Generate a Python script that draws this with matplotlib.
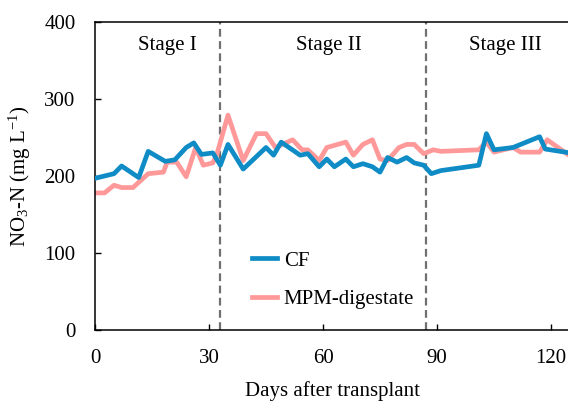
import matplotlib
matplotlib.use("Agg")
import matplotlib.pyplot as plt

days_cf = [0, 5, 7, 11.5, 14, 18.5, 21, 24, 26, 28, 31, 33, 35, 39, 45, 47, 49, 54, 56, 59,
           61, 63, 66, 68, 70.5, 73, 75, 77, 79.5, 82, 84, 86.5, 88.5, 91, 101, 103, 105,
           110, 117, 118.5, 125]
cf = [197, 203, 213, 198, 232, 219, 221, 237, 243, 228, 230, 214, 241, 209, 237, 227, 244,
      227, 229, 212, 222, 212, 222, 212, 216, 212, 205, 224, 218, 224, 217, 214, 203, 207,
      214, 255, 234, 237, 251, 235, 230]

days_mpm = [0, 2.5, 5, 7, 10, 14, 18, 19, 21.5, 24, 26.5, 28.5, 31, 32, 35, 39, 42.5, 45,
            47.5, 52, 54.5, 56, 59, 61, 66, 68, 70.5, 73, 75, 77, 80, 82, 84, 86.5, 89, 91,
            101, 103, 105, 110, 112, 117, 119, 125]
mpm = [178, 178, 188, 185, 185, 203, 205, 218, 218, 199, 237, 214, 217, 227, 279, 220, 255,
       255, 237, 247, 234, 234, 220, 237, 244, 227, 241, 247, 222, 220, 237, 241, 241, 229,
       234, 232, 234, 244, 231, 237, 231, 231, 247, 226]

stage_bounds = [33, 87]
stage_labels = ["Stage I", "Stage II", "Stage III"]
stage_label_x = [19, 61.5, 108]
xticks = [0, 30, 60, 90, 120]
yticks = [0, 100, 200, 300, 400]

plt.rcParams['font.family'] = ['Liberation Serif', 'DejaVu Serif']
plt.rcParams['mathtext.fontset'] = 'custom'
plt.rcParams['mathtext.rm'] = 'Liberation Serif'
plt.rcParams['mathtext.it'] = 'Liberation Serif:italic'

fig = plt.figure(figsize=(5.68, 4.03), dpi=100)
ax = fig.add_axes([95/568, 1 - 330/403, (125*3.8)/568, (330-22)/403])

blue = '#0F8CC6'
pink = '#FF9999'
ax.plot(days_cf, cf, color=blue, lw=3.4, label='CF', zorder=3)
ax.plot(days_mpm, mpm, color=pink, lw=3.4, label='MPM-digestate', zorder=2)

for b in stage_bounds:
    ax.axvline(b, color='#707070', lw=1.6, ls=(0, (3.5, 2)), zorder=1)

for lab, xx in zip(stage_labels, stage_label_x):
    ax.text(xx, 369, lab, ha='center', va='center', fontsize=15)

ax.set_xlim(0, 125)
ax.set_ylim(0, 400)
ax.set_xticks(xticks)
ax.set_yticks(yticks)
ax.tick_params(direction='in', length=4, width=1, labelsize=15)
ax.tick_params(axis='x', pad=14)
ax.tick_params(axis='y', pad=14)
ax.spines['right'].set_visible(False)
for s in ['left', 'bottom', 'top']:
    ax.spines[s].set_linewidth(1.1)

ax.set_xlabel('Days after transplant', fontsize=15, labelpad=9)
ax.set_ylabel(r'NO$_3$-N (mg L$^{-1}$)', fontsize=15, labelpad=8)

leg = ax.legend(loc='lower left', bbox_to_anchor=(0.292, 0.007), frameon=False, fontsize=15,
                handlelength=1.2, handletextpad=0.3, labelspacing=0.9)

fig.savefig('out.png', dpi=100)
